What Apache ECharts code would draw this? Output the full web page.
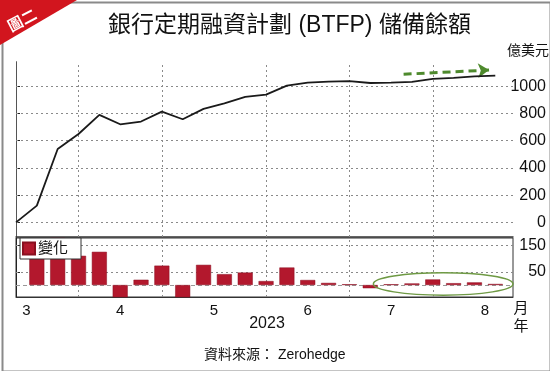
<!DOCTYPE html>
<html><head><meta charset="utf-8">
<script src="https://cdn.jsdelivr.net/npm/echarts@6/dist/echarts.min.js"></script>
<style>html,body{margin:0;padding:0;background:#fff}#c{width:550px;height:371px}</style>
</head><body><div id="c"></div>
<script>
// weekly dates (2023, Wednesdays)
const weeks = ['3/8','3/15','3/22','3/29','4/5','4/12','4/19','4/26','5/3','5/10','5/17','5/24','5/31','6/7','6/14','6/21','6/28','7/5','7/12','7/19','7/26','8/2','8/9','8/16'];
// BTFP balance, 億美元
const reserveValues = [0,123,539,649,789,720,740,813,757,833,874,921,938,1004,1026,1033,1036,1023,1026,1031,1053,1060,1072,1077];
// weekly change, 億美元
const changeValues = [null,123,416,110,125,-69,20,73,-56,76,41,47,15,66,19,8,3,-12,3,6,21,7,10,4];
const monthLabels = ['3','4','5','6','7','8'];
const monthLabelPos = [0.5,5,9.5,14,18,22.5];
const monthGridPos = [3,7,12,16,20];
const topTicks = [0,200,400,600,800,1000];
const bottomTicks = [50,150];

const LAT = '"Liberation Sans", Arial, "Noto Sans CJK TC", sans-serif';
const NARROW = '"Liberation Sans Narrow", "Liberation Sans", Arial, sans-serif';
const CJK = '"Liberation Sans", "Noto Sans CJK TC", sans-serif';
const gridStyle = {color:'#8a8a8a', type:[2,3], width:1};

const chart = echarts.init(document.getElementById('c'), null, {renderer:'canvas'});
const lineData = reserveValues.map((v,i)=>[i,v]);
const barData = changeValues.map((v,i)=>v===null?null:[i,v]).filter(d=>d);

const topGridLines = monthGridPos.map(x=>({xAxis:x})).concat(topTicks.map(y=>({yAxis:y})));
const bottomGridLines = monthGridPos.map(x=>({xAxis:x})).concat(bottomTicks.map(y=>({yAxis:y})))
  .concat([{yAxis:0, lineStyle:{color:'#999', width:1, type:[4,3]}}]);

const option = {
  animation:false,
  backgroundColor:'#fff',
  title:{text:'銀行定期融資計劃 (BTFP) 儲備餘額', left:103, top:9,
    textStyle:{fontFamily:CJK, fontSize:23, fontWeight:'normal', color:'#111'}},
  legend:{data:['變化'], left:20, top:238, orient:'horizontal', z:30,
    icon:'rect', itemWidth:12, itemHeight:12, itemGap:4,
    backgroundColor:'#fff', borderColor:'#333', borderWidth:1, borderRadius:0,
    padding:[3,13,3,2],
    textStyle:{fontFamily:CJK, fontSize:15, color:'#111', padding:[0,0,0,-2]}},
  grid:[
    {left:16, right:37, top:62, height:175},
    {left:16, right:37, top:238, height:59, show:true, borderColor:'#333', borderWidth:1, backgroundColor:'transparent'}
  ],
  xAxis:[
    {type:'value', gridIndex:0, min:0, max:23.85,
      axisLine:{show:true, onZero:false, lineStyle:{color:'#333', width:1.5}},
      axisTick:{show:false}, axisLabel:{show:false}, splitLine:{show:false}},
    {type:'value', gridIndex:1, min:0, max:23.85,
      axisLine:{show:true, onZero:false, lineStyle:{color:'#333', width:1}},
      axisTick:{show:false},
      axisLabel:{show:true, customValues:monthLabelPos, margin:6,
        formatter:(v)=>monthLabels[monthLabelPos.indexOf(v)],
        fontFamily:LAT, fontSize:15, color:'#111'},
      splitLine:{show:false}}
  ],
  yAxis:[
    {type:'value', gridIndex:0, position:'right', min:-107, max:1177,
      axisLine:{show:true, lineStyle:{color:'#222', width:1}},
      axisTick:{show:true, length:4, customValues:topTicks, lineStyle:{color:'#222'}},
      axisLabel:{customValues:topTicks, align:'right', margin:33, formatter:(v)=>String(v),
        fontFamily:NARROW, fontSize:16, color:'#111'},
      splitLine:{show:false}},
    {type:'value', gridIndex:0, position:'left', min:-107, max:1177,
      axisLine:{show:true, lineStyle:{color:'#555', width:1}},
      axisTick:{show:false}, axisLabel:{show:false}, splitLine:{show:false}},
    {type:'value', gridIndex:1, position:'right', min:-45, max:177,
      axisLine:{show:true, lineStyle:{color:'#222', width:1}},
      axisTick:{show:true, length:4, customValues:bottomTicks, lineStyle:{color:'#222'}},
      axisLabel:{customValues:bottomTicks, align:'right', margin:33, formatter:(v)=>String(v),
        fontFamily:NARROW, fontSize:16, color:'#111'},
      splitLine:{show:false}}
  ],
  series:[
    {name:'grid-top', type:'line', xAxisIndex:0, yAxisIndex:0, data:lineData, silent:true,
      symbol:'none', lineStyle:{width:0, color:'rgba(0,0,0,0)'},
      markLine:{silent:true, symbol:'none', label:{show:false}, lineStyle:gridStyle,
        data:topGridLines}},
    {name:'grid-bottom', type:'line', xAxisIndex:1, yAxisIndex:2, data:barData, silent:true,
      symbol:'none', lineStyle:{width:0, color:'rgba(0,0,0,0)'},
      markLine:{silent:true, symbol:'none', label:{show:false}, lineStyle:gridStyle,
        data:bottomGridLines}},
    {name:'儲備餘額', type:'line', xAxisIndex:0, yAxisIndex:0, data:lineData,
      symbol:'none', lineStyle:{color:'#1a1a1a', width:1.8}, z:10,
      markLine:{silent:true, symbol:['none','arrow'], symbolSize:[11,11],
        label:{show:false},
        lineStyle:{color:'#4e8a2d', width:3, type:[8,5]},
        data:[[{coord:[18.6,1087]},{coord:[22.7,1118]}]]}},
    {name:'變化', type:'bar', xAxisIndex:1, yAxisIndex:2, data:barData, z:10,
      barWidth:15, itemStyle:{color:'#b3182d', borderColor:'#8a0f20', borderWidth:0.5}}
  ],
  graphic:[
    {type:'rect', left:0, top:0, shape:{x:1,y:1,width:548,height:369}, style:{fill:'none', stroke:'#8a8a8a', lineWidth:2}, z:100},
    {type:'polygon', shape:{points:[[0,0],[77,0],[0,45]]}, style:{fill:'#d2151e'}, z:101},
    {type:'text', x:22, y:20, rotation:0.48, style:{text:'圖二', fill:'#fff', font:'bold 15px "Noto Sans CJK TC"', align:'center', verticalAlign:'middle'}, z:102},
    {type:'text', x:528, y:50, style:{text:'億美元', fill:'#111', font:'14px "Noto Sans CJK TC"', align:'center', verticalAlign:'middle'}},
    {type:'text', x:521, y:307, style:{text:'月', fill:'#111', font:'15px "Noto Sans CJK TC"', align:'center', verticalAlign:'middle'}},
    {type:'text', x:521, y:325, style:{text:'年', fill:'#111', font:'15px "Noto Sans CJK TC"', align:'center', verticalAlign:'middle'}},
    {type:'text', x:267, y:324, style:{text:'2023', fill:'#111', font:'16px "Liberation Sans"', align:'center', verticalAlign:'middle'}},
    {type:'text', x:204, y:355, style:{text:'資料來源： Zerohedge', fill:'#111', font:'14px "Liberation Sans", "Noto Sans CJK TC"', align:'left', verticalAlign:'middle'}}
  ]
};
chart.setOption(option);

// annotation ellipse around the recent small changes, placed via the library's scales
const pA = chart.convertToPixel({gridIndex:1}, [17.15, 46]);
const pB = chart.convertToPixel({gridIndex:1}, [23.85, -38]);
chart.setOption({graphic:[{id:'ell', type:'ellipse',
  shape:{cx:(pA[0]+pB[0])/2, cy:(pA[1]+pB[1])/2, rx:Math.abs(pB[0]-pA[0])/2, ry:Math.abs(pB[1]-pA[1])/2},
  style:{fill:'none', stroke:'#6f9a45', lineWidth:1.5}, z:50}]});
</script></body></html>
